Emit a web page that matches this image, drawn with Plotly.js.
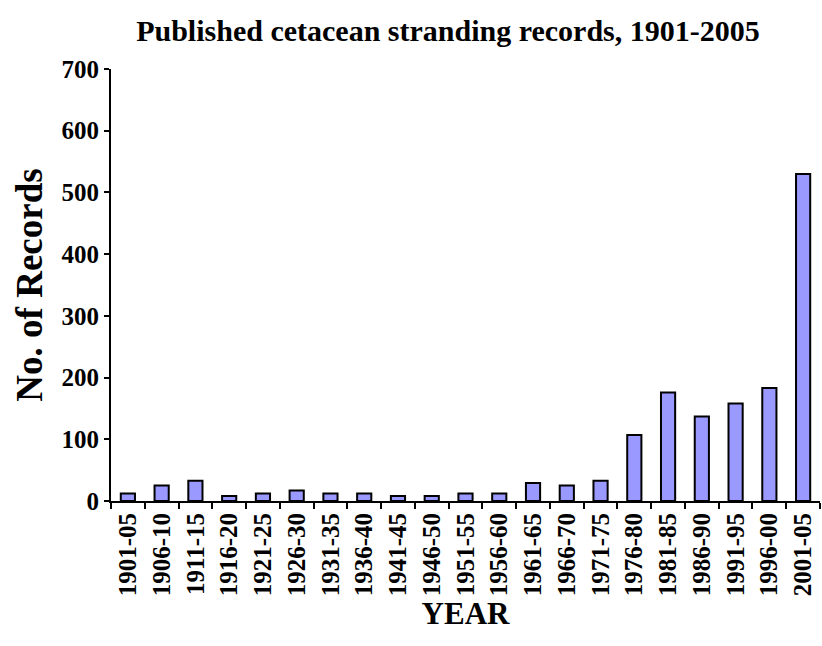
<!DOCTYPE html>
<html>
<head>
<meta charset="utf-8">
<script src="https://cdn.plot.ly/plotly-3.0.1.min.js"></script>
<style>html,body{margin:0;padding:0;background:#fff;}#chart{width:822px;height:646px;}</style>
</head>
<body>
<div id="chart"></div>
<script>
const periods = ["1901-05","1906-10","1911-15","1916-20","1921-25","1926-30","1931-35","1936-40","1941-45","1946-50","1951-55","1956-60","1961-65","1966-70","1971-75","1976-80","1981-85","1986-90","1991-95","1996-00","2001-05"];
const records = [12, 25, 33, 8, 12, 17, 12, 12, 8, 8, 12, 12, 29, 25, 33, 107, 176, 137, 158, 183, 530];
const yTicks = [0,100,200,300,400,500,600,700];

const serif = "Liberation Serif, Times New Roman, serif";

const trace = {
  type: "bar",
  x: periods,
  y: records,
  marker: { color: "#9999ff", line: { color: "#000000", width: 2 } },
  hoverinfo: "x+y"
};

const layout = {
  width: 822, height: 646,
  margin: { l: 111, r: 2, t: 69, b: 145 },
  paper_bgcolor: "#ffffff", plot_bgcolor: "#ffffff",
  bargap: 0.58,
  showlegend: false,
  title: {
    text: "Published cetacean stranding records, 1901-2005",
    font: { family: serif, size: 30, color: "#000", weight: "bold" },
    x: 0.545, xanchor: "center", y: 1 - 30/646, yanchor: "middle", yref: "container"
  },
  xaxis: {
    type: "category",
    tickson: "boundaries",
    ticks: "outside", ticklen: 6, tickwidth: 2, tickcolor: "#000",
    showline: true, linewidth: 2, linecolor: "#000",
    showgrid: false, zeroline: false,
    tickangle: -90,
    tickfont: { family: serif, size: 25, color: "#000", weight: "bold" },
    title: { text: "YEAR", font: { family: serif, size: 31, color: "#000", weight: "bold" }, standoff: 0 }
  },
  yaxis: {
    range: [0, 700],
    tickvals: yTicks,
    ticks: "outside", ticklen: 5, tickwidth: 2, tickcolor: "#000",
    showline: true, linewidth: 2, linecolor: "#000",
    showgrid: false, zeroline: false,
    tickfont: { family: serif, size: 25, color: "#000", weight: "bold" },
    title: { text: "No. of Records", font: { family: serif, size: 37, color: "#000", weight: "bold" }, standoff: 8 }
  }
};

Plotly.newPlot("chart", [trace], layout, { displayModeBar: false, staticPlot: true });
</script>
</body>
</html>
